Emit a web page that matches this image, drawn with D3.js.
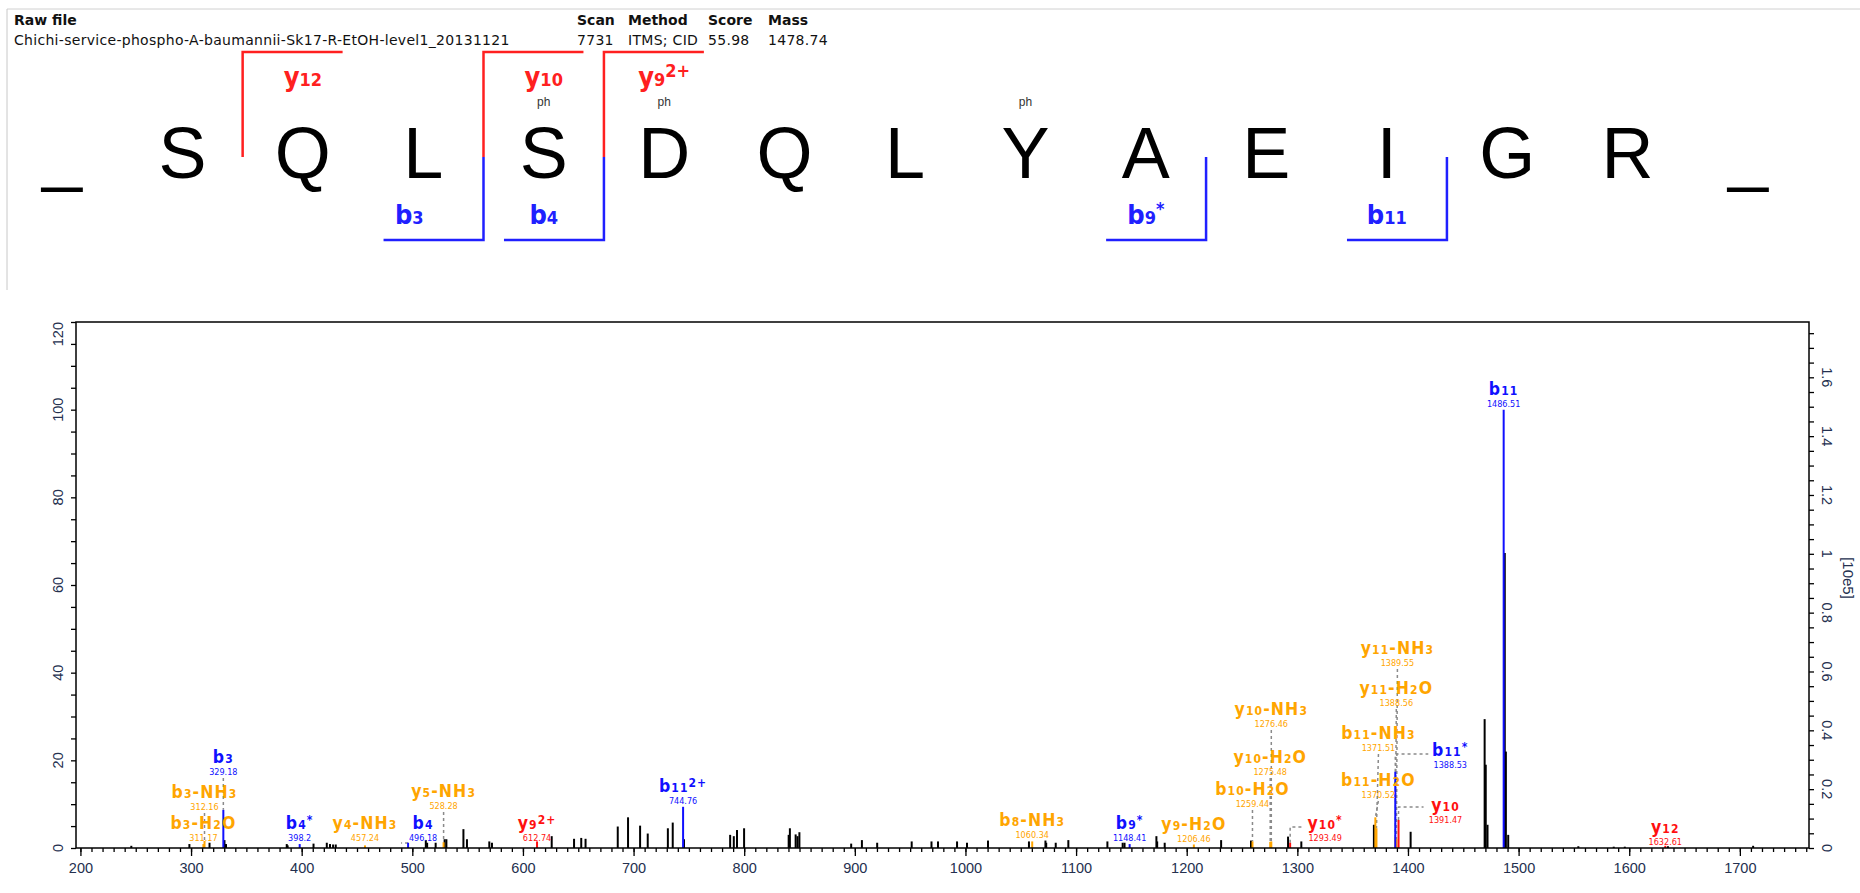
<!DOCTYPE html>
<html><head><meta charset="utf-8">
<script src="https://cdn.jsdelivr.net/npm/d3@7"></script>
<style>body{margin:0;background:#fff}svg{display:block}</style>
</head><body>
<svg id="c" width="1860" height="893"></svg>
<script>
// ---------------- DATA ----------------
const headerLabels = ["Raw file", "Scan", "Method", "Score", "Mass"];
const headerValues = ["Chichi-service-phospho-A-baumannii-Sk17-R-EtOH-level1_20131121", "7731", "ITMS; CID", "55.98", "1478.74"];

const sequence = ["_", "S", "Q", "L", "S", "D", "Q", "L", "Y", "A", "E", "I", "G", "R", "_"];
const phosphoSites = [4, 5, 8];

// sequence fragment markers (cut = index of letter left of the cleavage)
const seqIonNames  = ["y{12}", "y{10}", "y{9}^{2+}", "b{3}", "b{4}", "b{9}^{*}", "b{11}"];
const seqIonSeries = ["y", "y", "y", "b", "b", "b", "b"];
const seqIonCut    = [1, 3, 4, 3, 4, 9, 11];

// unannotated peaks (m/z, relative intensity %)
const peakMz  = [246, 298.5, 316.7, 330.2, 331.6, 386.5, 387.3, 410.7, 422.7, 425.6, 428.4, 430.8,
  512.2, 513.4, 521.1, 529.2, 530.8, 546.2, 549.4, 569.6, 572, 626, 646.2, 652.7, 656.6,
  685.7, 695, 705.9, 712.8, 731, 735.4, 745.6, 787.3, 790.6, 793.5, 799.9,
  840.2, 841.3, 846.5, 848.2, 849.9, 896.7, 906.4, 920.2, 951.4, 969.3, 975.2, 992.4, 1001.4,
  1020.4, 1057.4, 1072.3, 1073, 1081.6, 1093, 1128.3, 1142.1, 1143.8, 1172.6, 1173.3, 1180.1,
  1231.1, 1258.1, 1291.6, 1303.6, 1369.2, 1402.4, 1469.3, 1470.3, 1471.9, 1487.5, 1488.5, 1490.6,
  1554, 1586, 1596, 1635, 1712];
const peakRel = [0.5, 0.9, 1.2, 1.8, 0.9, 0.9, 0.6, 1.0, 1.2, 0.9, 0.8, 0.8,
  1.8, 1.2, 1.2, 2.0, 2.0, 4.3, 2.0, 1.5, 1.2, 2.7, 2.1, 2.3, 2.1,
  4.9, 7.0, 5.1, 3.3, 4.5, 5.8, 2.0, 3.0, 2.7, 4.1, 4.5,
  3.0, 4.5, 3.1, 2.7, 3.6, 1.0, 1.8, 1.2, 1.5, 1.5, 1.5, 1.5, 1.2,
  1.7, 1.5, 1.7, 1.2, 1.2, 1.8, 1.5, 1.2, 1.2, 2.7, 1.5, 1.2,
  1.8, 1.7, 2.6, 1.5, 5.3, 3.7, 29.4, 19, 5.3, 67.3, 22, 3.0,
  0.4, 0.3, 0.3, 0.4, 0.5];

// annotated fragment peaks
const ionNames = ["b{3}", "b{3}-NH{3}", "b{3}-H{2}O", "b{4}^{*}", "y{4}-NH{3}", "b{4}", "y{5}-NH{3}",
  "y{9}^{2+}", "b{11}^{2+}", "b{8}-NH{3}", "b{9}^{*}", "y{9}-H{2}O", "b{10}-H{2}O", "y{10}-H{2}O",
  "y{10}-NH{3}", "y{10}^{*}", "b{11}-H{2}O", "b{11}-NH{3}", "y{11}-H{2}O", "y{11}-NH{3}", "b{11}^{*}",
  "y{10}", "b{11}", "y{12}"];
const ionMzText = ["329.18", "312.16", "311.17", "398.2", "457.24", "496.18", "528.28",
  "612.74", "744.76", "1060.34", "1148.41", "1206.46", "1259.44", "1275.48",
  "1276.46", "1293.49", "1370.52", "1371.51", "1388.56", "1389.55", "1388.53",
  "1391.47", "1486.51", "1632.61"];
const ionRel = [8.7, 1.6, 0.9, 0.9, 0.6, 1.2, 1.3,
  1.5, 9.4, 1.5, 0.9, 0.8, 1.5, 1.4,
  1.5, 1.2, 7.0, 4.5, 2.5, 2.0, 17.4,
  6.4, 100, 0.5];
const ionType = ["b", "loss", "loss", "b", "loss", "b", "loss",
  "y", "b", "loss", "b", "loss", "loss", "loss",
  "loss", "y", "loss", "loss", "loss", "loss", "b",
  "y", "b", "y"];

const xTickValues = d3.range(200, 1701, 100);
const yTickValues = d3.range(0, 121, 20);
const yRightTicks = [0, 0.2, 0.4, 0.6, 0.8, 1, 1.2, 1.4, 1.6];
const intensityAt100 = 1.49; // [10e5]

// ---------------- LAYOUT (not data) ----------------
const headerX = [14, 577, 628, 708, 768];
const seqLabelDx = [0, 0, 0, -14, 0, 0, 0];
// label offset from peak (px), label row centre (px), elbow leader y (or null)
const ionLabelDx   = [0, 0, 0, 0, 0, 15, 0, 0, 0, 0, 0, 0, 0, 0, 0, 35, 3, 2, 1, 1, 55, 47, 0, 0];
const ionLabelY    = [757, 792, 823, 823, 823, 823, 791, 823, 786, 820, 823, 824, 789, 757, 709, 823, 780, 733, 688, 648, 750, 805, 389, 827];
const ionLeaderY   = [null, null, null, null, null, 843, null, null, null, null, null, null, null, null, null, 827, null, null, null, null, 754, 807, null, null];

const colors = {b: "#1010ff", y: "#ff1010", loss: "#ffa500"};
const seqColors = {b: "#2020ff", y: "#ff2020"};

const svg = d3.select("#c");
const LBL = "'DejaVu Sans Condensed','DejaVu Sans',sans-serif";

// --- frame lines of the panel
svg.append("line").attr("x1", 7).attr("x2", 1860).attr("y1", 9).attr("y2", 9).attr("stroke", "#d0d0d0");
svg.append("line").attr("x1", 7).attr("x2", 7).attr("y1", 9).attr("y2", 290).attr("stroke", "#c8c8c8");

// --- header
const hdr = svg.append("g").attr("font-family", "'DejaVu Sans',sans-serif").attr("font-size", 14)
  .attr("letter-spacing", 0.3).attr("fill", "#111");
headerLabels.forEach((t, i) => {
  hdr.append("text").attr("x", headerX[i]).attr("y", 25).attr("font-weight", "bold").attr("letter-spacing", 0).text(t);
  hdr.append("text").attr("x", headerX[i]).attr("y", 45).text(headerValues[i]);
});

// rich label helper: {..} small baseline, ^{..} small raised
function richText(sel, spec, big, small, raise) {
  const re = /(\^\{[^}]*\})|(\{[^}]*\})|([^{^]+)/g;
  let m;
  while ((m = re.exec(spec)) !== null) {
    if (m[1]) sel.append("tspan").attr("font-size", small).attr("dy", -raise).text(m[1].slice(2, -1))
      .clone().attr("font-size", 1).attr("dy", raise).text("\u200b");
    else if (m[2]) sel.append("tspan").attr("font-size", small).text(m[2].slice(1, -1));
    else sel.append("tspan").attr("font-size", big).text(m[3]);
  }
}

// --- peptide sequence
const sx = d3.scaleLinear([0, sequence.length - 1], [62, 1748]);
const step = sx(1) - sx(0);
const seqG = svg.append("g");
seqG.selectAll("text.res").data(sequence).join("text").attr("class", "res")
  .attr("x", (d, i) => sx(i)).attr("y", 178).attr("text-anchor", "middle")
  .attr("font-family", "'Liberation Sans',Arial,sans-serif").attr("font-size", 72).attr("fill", "#000")
  .text(d => d);
seqG.selectAll("text.ph").data(phosphoSites).join("text").attr("class", "ph")
  .attr("x", d => sx(d)).attr("y", 106).attr("text-anchor", "middle")
  .attr("font-family", "'Liberation Sans',Arial,sans-serif").attr("font-size", 12).attr("fill", "#333").text("ph");

seqIonNames.forEach((nm, i) => {
  const s = seqIonSeries[i], cut = seqIonCut[i];
  const vx = (sx(cut) + sx(cut + 1)) / 2;
  const len = step * 0.83;
  const col = seqColors[s];
  let pts, lx, ly;
  if (s === "y") { pts = [[vx, 157], [vx, 52], [vx + len, 52]]; lx = sx(cut + 1); ly = 86; }
  else { pts = [[vx, 157], [vx, 240], [vx - len, 240]]; lx = sx(cut); ly = 224; }
  seqG.append("path").attr("d", d3.line()(pts)).attr("fill", "none").attr("stroke", col).attr("stroke-width", 2.5);
  const t = seqG.append("text").attr("x", lx + seqLabelDx[i]).attr("y", ly).attr("text-anchor", "middle")
    .attr("font-family", LBL).attr("font-weight", "bold").attr("fill", col);
  richText(t, nm, 27, 18, 9);
});

// --- spectrum
const L = 76, R = 1809, T = 322, B = 848;
const x = d3.scaleLinear([196, 1762.5], [L, R]);
const yL = d3.scaleLinear([0, 120], [B, T]);
const yR = d3.scaleLinear([0, intensityAt100 * 1.2], [B, T]);
const axisFont = "'Liberation Sans',Arial,sans-serif";
const axisColor = "#24304f";

// peaks
const pk = svg.append("g");
pk.selectAll("line").data(peakMz.map((m, i) => [m, peakRel[i]])).join("line")
  .attr("x1", d => x(d[0])).attr("x2", d => x(d[0]))
  .attr("y1", B).attr("y2", d => yL(d[1])).attr("stroke", "#000").attr("stroke-width", 2);

const ions = ionNames.map((n, i) => ({n, t: ionMzText[i], mz: +ionMzText[i], rel: ionRel[i], type: ionType[i],
  dx: ionLabelDx[i], ly: ionLabelY[i], ely: ionLeaderY[i]}));

// leaders
const ld = svg.append("g").attr("stroke", "#8a8a8a").attr("stroke-width", 1.5).attr("stroke-dasharray", "3,3").attr("fill", "none");
ions.forEach(d => {
  const px = x(d.mz), py = yL(d.rel);
  if (d.ely !== null) {
    const lx = px + d.dx - 22;
    const p = [[px, Math.max(py, d.ely)], [px, d.ely], [lx, d.ely]];
    ld.append("path").attr("d", d3.line()(p));
  } else {
    const top = d.ly + 21;
    if (py - top > 6) ld.append("path").attr("d", d3.line()([[px + d.dx, top], [px, py]]));
  }
});

// coloured peaks
svg.append("g").selectAll("line").data(ions).join("line")
  .attr("x1", d => x(d.mz)).attr("x2", d => x(d.mz))
  .attr("y1", B).attr("y2", d => yL(d.rel)).attr("stroke", d => colors[d.type]).attr("stroke-width", 2);

// labels
const lb = svg.append("g").attr("font-family", LBL);
ions.forEach(d => {
  const cx = x(d.mz) + d.dx;
  const t = lb.append("text").attr("x", cx).attr("y", d.ly + 6).attr("text-anchor", "middle")
    .attr("font-weight", "bold").attr("fill", colors[d.type]).attr("letter-spacing", 1.1);
  richText(t, d.n, 17.5, 12, 5);
  lb.append("text").attr("x", cx).attr("y", d.ly + 18).attr("text-anchor", "middle")
    .attr("font-size", 9).attr("fill", colors[d.type]).text(d.t);
});

// frame
svg.append("rect").attr("x", L).attr("y", T).attr("width", R - L).attr("height", B - T)
  .attr("fill", "none").attr("stroke", "#000").attr("stroke-width", 1.5);

// x axis
const gx = svg.append("g").attr("transform", `translate(0,${B})`);
gx.call(d3.axisBottom(x).tickValues(d3.range(200, 1761, 10)).tickSize(4).tickFormat(""));
gx.call(g => g.append("g").call(d3.axisBottom(x).tickValues(xTickValues).tickSize(8).tickPadding(7).tickFormat(d3.format("d"))));
gx.selectAll(".domain").remove();
gx.selectAll("line").attr("stroke", "#000").attr("stroke-width", 1.3);
gx.selectAll("text").attr("font-family", axisFont).attr("font-size", 14.5).attr("fill", axisColor);

// left axis
const gy = svg.append("g").attr("transform", `translate(${L},0)`);
gy.call(d3.axisLeft(yL).tickValues(d3.range(0, 121, 5)).tickSize(5).tickFormat(""));
gy.selectAll(".domain").remove();
gy.selectAll("line").attr("stroke", "#000").attr("stroke-width", 1.3);
gy.selectAll("text.yl").data(yTickValues).join("text").attr("class", "yl")
  .attr("transform", d => `translate(-13,${yL(d)}) rotate(-90)`)
  .attr("text-anchor", d => d === 120 ? "end" : "middle").attr("dy", "0")
  .attr("font-family", axisFont).attr("font-size", 14.5).attr("fill", axisColor).text(d => d);

// right axis
const gr = svg.append("g").attr("transform", `translate(${R},0)`);
gr.call(d3.axisRight(yR).tickValues(d3.range(0, 1.79, 0.05)).tickSize(5).tickFormat(""));
gr.selectAll(".domain").remove();
gr.selectAll("line").attr("stroke", "#000").attr("stroke-width", 1.3);
gr.selectAll("text.yr").data(yRightTicks).join("text").attr("class", "yr")
  .attr("transform", d => `translate(13,${yR(d)}) rotate(90)`)
  .attr("text-anchor", "middle").attr("dy", "0")
  .attr("font-family", axisFont).attr("font-size", 14.5).attr("fill", axisColor).text(d => d);
svg.append("text").attr("transform", "translate(1843,578) rotate(90)").attr("text-anchor", "middle")
  .attr("font-family", axisFont).attr("font-size", 15).attr("fill", axisColor).text("[10e5]");
</script>
</body></html>
